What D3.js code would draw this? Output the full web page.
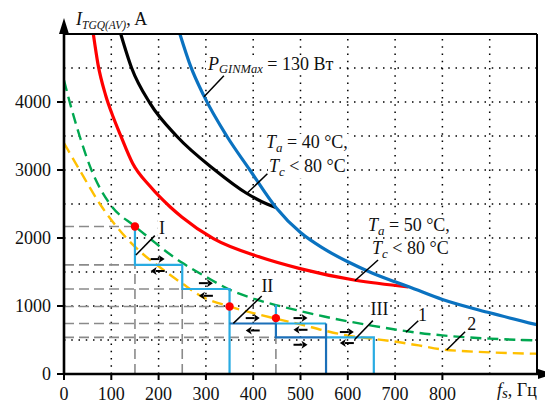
<!doctype html>
<html lang="ru">
<head>
<meta charset="utf-8">
<title>ITGQ(AV) vs fs</title>
<style>
  body { margin: 0; background: #fff; }
  svg text { font-family: "Liberation Serif", "Times New Roman", serif; fill: #111; }
</style>
</head>
<body>
<script src="https://cdn.jsdelivr.net/npm/d3@7/dist/d3.min.js"></script>
<script>
  // ---- values (f in Hz, I in A) ----
  var xTicks = [0, 100, 200, 300, 400, 500, 600, 700, 800];
  var yTicks = [0, 1000, 2000, 3000, 4000];
  var xGrid = [100, 200, 300, 400, 500, 600, 700, 800, 900];
  var yGrid = [500, 1000, 1500, 2000, 2500, 3000, 3500, 4000, 4500];

  // P_GINMax = 130 W
  var blueF = [245, 268, 295, 344, 393, 448, 500, 550, 600, 650, 700, 729, 800, 900, 1000];
  var blueI = [5000, 4520, 4101, 3500, 3000, 2450, 2080, 1840, 1650, 1490, 1355, 1282, 1095, 900, 724];
  // Ta = 40 C
  var blackF = [120, 143, 182, 238, 319, 386, 429, 448];
  var blackI = [5000, 4500, 3980, 3500, 3000, 2658, 2500, 2450];
  // Ta = 50 C
  var redF = [62, 72, 88, 104, 119, 145, 182, 224, 249, 316, 414, 499, 616, 728];
  var redI = [5000, 4550, 4100, 3780, 3520, 3100, 2760, 2460, 2310, 1990, 1720, 1550, 1378, 1282];
  // curve 1 (green dashed)
  var greenF = [0, 12, 33, 58, 97, 150, 182, 224, 250, 300, 351, 400, 450, 500, 550, 600, 650, 700, 750, 800, 850, 900, 1000];
  var greenI = [4321, 4000, 3500, 3000, 2500, 2170, 1990, 1760, 1635, 1430, 1238, 1110, 1010, 925, 845, 775, 712, 655, 605, 568, 540, 520, 493];
  // curve 2 (orange dashed)
  var orangeF = [0, 33, 76, 132, 182, 196, 250, 291, 350, 400, 450, 500, 550, 600, 650, 697, 750, 800, 850, 900, 1000];
  var orangeI = [3396, 3000, 2500, 2000, 1678, 1605, 1330, 1140, 993, 895, 810, 730, 640, 565, 520, 479, 420, 360, 335, 318, 298];

  // step trajectories
  var stepsLight = [
    [[150, 2170], [150, 1605], [250, 1605], [250, 1250], [350, 1250], [350, 0]],
    [[448, 1018], [448, 743], [554, 743]],
    [[554, 538], [655, 538], [655, 0]]
  ];
  var stepsDark = [
    [[350, 743], [448, 743]],
    [[448, 743], [448, 538], [554, 538]],
    [[554, 743], [554, 0]]
  ];
  var dotF = [150, 350, 448];
  var dotI = [2170, 993, 822];

  // gray dashed guides
  var guideH = [[150, 2170], [150, 1605], [250, 1250], [350, 993], [350, 743], [448, 538]];
  var guideV = [[150, 1605], [250, 1250], [448, 538]];

  var arrowsRight = [[198, 1690], [300, 1336], [399, 822], [500, 822], [500, 430], [598, 617]];
  var arrowsLeft = [[198, 1515], [300, 1150], [399, 640], [500, 650], [598, 455]];

  var W = 545, H = 403;
  var svg = d3.select("body").append("svg")
    .attr("width", W)
    .attr("height", H);

  var x = d3.scaleLinear().domain([0, 1000]).range([64, 537]);
  var y = d3.scaleLinear().domain([0, 5000]).range([374, 34]);

  svg.append("clipPath").attr("id", "plot")
    .append("rect").attr("x", 64).attr("y", 34).attr("width", 473).attr("height", 340);

  // dotted grid
  svg.append("g").selectAll("line").data(xGrid).enter().append("line")
    .attr("x1", function(d){ return x(d); }).attr("x2", function(d){ return x(d); })
    .attr("y1", y(0)).attr("y2", y(5000))
    .attr("stroke", "#000").attr("stroke-width", 1.5).attr("stroke-dasharray", "1.5,5.75");
  svg.append("g").selectAll("line").data(yGrid).enter().append("line")
    .attr("y1", function(d){ return y(d); }).attr("y2", function(d){ return y(d); })
    .attr("x1", x(0)).attr("x2", x(1000))
    .attr("stroke", "#000").attr("stroke-width", 1.5).attr("stroke-dasharray", "1.5,5.75");

  // gray guides
  var guides = svg.append("g").attr("stroke", "#8a8a8a").attr("stroke-width", 1.6).attr("stroke-dasharray", "10,5");
  guides.selectAll(".gh").data(guideH).enter().append("line")
    .attr("x1", x(0)).attr("x2", function(d){ return x(d[0]); })
    .attr("y1", function(d){ return y(d[1]); }).attr("y2", function(d){ return y(d[1]); });
  guides.selectAll(".gv").data(guideV).enter().append("line")
    .attr("x1", function(d){ return x(d[0]); }).attr("x2", function(d){ return x(d[0]); })
    .attr("y1", y(0)).attr("y2", function(d){ return y(d[1]); });

  // text helper (white box behind, so the dotted grid breaks around it)
  function label(px, py, parts, anchor, box) {
    var g = svg.append("g");
    var t = g.append("text").attr("x", px).attr("y", py).attr("font-size", 18)
      .attr("text-anchor", anchor || "start");
    var shift = 0;
    parts.forEach(function(p){
      var s = t.append("tspan").text(p.t);
      if (p.i) s.attr("font-style", "italic");
      var want = p.sub ? p.sub : 0;
      if (want !== shift) { s.attr("dy", want - shift); shift = want; }
      if (p.sub) s.attr("font-size", p.fs || 12.5);
    });
    if (box) {
      var b = t.node().getBBox();
      g.insert("rect", "text")
        .attr("x", b.x - 1).attr("y", b.y + 2)
        .attr("width", b.width + 2).attr("height", b.height - 3)
        .attr("fill", "#fff");
    }
    return g;
  }

  // annotation text goes under the curves
  label(x(207), y(2059), [{t: "I"}], "middle", true);
  label(x(430), y(1210), [{t: "II"}], "middle", true);
  label(x(667), y(868), [{t: "III"}], "middle", true);
  label(x(758), y(786), [{t: "1"}], "middle", true);
  label(x(862), y(640), [{t: "2"}], "middle", true);

  label(208, 69.5, [{t: "P", i: 1}, {t: "GINMax", i: 1, sub: 3}, {t: " = 130 Вт"}], "start", true);
  label(266, 148, [{t: "T", i: 1}, {t: "a", i: 1, sub: 4, fs: 13}, {t: " = 40 °C,"}], "start", true);
  label(269, 172, [{t: "T", i: 1}, {t: "c", i: 1, sub: 4, fs: 13}, {t: " < 80 °C"}], "start", true);
  label(368, 231, [{t: "T", i: 1}, {t: "a", i: 1, sub: 4, fs: 13}, {t: " = 50 °C,"}], "start", true);
  label(372, 254, [{t: "T", i: 1}, {t: "c", i: 1, sub: 4, fs: 13}, {t: " < 80 °C"}], "start", true);

  function curve(fs, is, color, width, dash) {
    var pts = fs.map(function(f, i){ return [f, is[i]]; });
    var line = d3.line()
      .x(function(d){ return x(d[0]); })
      .y(function(d){ return y(d[1]); })
      .curve(d3.curveMonotoneX);
    svg.append("path")
      .attr("d", line(pts))
      .attr("fill", "none")
      .attr("stroke", color)
      .attr("stroke-width", width)
      .attr("stroke-dasharray", dash || null)
      .attr("clip-path", "url(#plot)");
  }

  curve(orangeF, orangeI, "#ffc000", 2.4, "11,6");
  curve(greenF, greenI, "#00a850", 2.4, "11,6");
  curve(redF, redI, "#ff0000", 3.2);
  curve(blackF, blackI, "#000000", 3.2);
  curve(blueF, blueI, "#0a72c0", 3.2);

  // steps
  var stepLine = d3.line().x(function(d){ return x(d[0]); }).y(function(d){ return y(d[1]); });
  svg.append("g").selectAll("path").data(stepsLight).enter().append("path")
    .attr("d", stepLine).attr("fill", "none").attr("stroke", "#29abe2").attr("stroke-width", 2.2);
  svg.append("g").selectAll("path").data(stepsDark).enter().append("path")
    .attr("d", stepLine).attr("fill", "none").attr("stroke", "#1b6fb8").attr("stroke-width", 2.2);

  svg.append("g").selectAll("circle").data(dotF).enter().append("circle")
    .attr("cx", function(d){ return x(d); })
    .attr("cy", function(d, i){ return y(dotI[i]); })
    .attr("r", 4.2).attr("fill", "#ff0000");

  // small direction arrows
  function arrow(d, dir) {
    var cx = x(d[0]), cy = y(d[1]);
    var g = svg.append("g");
    g.append("line")
      .attr("x1", cx - 7 * dir).attr("x2", cx + 2 * dir)
      .attr("y1", cy).attr("y2", cy)
      .attr("stroke", "#000").attr("stroke-width", 2);
    g.append("path")
      .attr("d", "M" + (cx + 7 * dir) + "," + cy + "L" + (cx + dir) + "," + (cy - 4) +
                 "L" + (cx + 2.5 * dir) + "," + cy + "L" + (cx + dir) + "," + (cy + 4) + "Z")
      .attr("fill", "#000");
  }
  arrowsRight.forEach(function(d){ arrow(d, 1); });
  arrowsLeft.forEach(function(d){ arrow(d, -1); });

  // leader lines
  var leaders = [
    [[152, 1750], [192, 2035]],
    [[358, 745], [418, 1147]],
    [[615, 510], [653, 785]],
    [[723, 613], [749, 784]],
    [[809, 353], [848, 622]],
    [[296, 4078], [338, 4385]],
    [[387, 2657], [430, 2945]],
    [[615, 1372], [664, 1676]]
  ];
  svg.append("g").selectAll("line").data(leaders).enter().append("line")
    .attr("x1", function(d){ return x(d[0][0]); }).attr("y1", function(d){ return y(d[0][1]); })
    .attr("x2", function(d){ return x(d[1][0]); }).attr("y2", function(d){ return y(d[1][1]); })
    .attr("stroke", "#000").attr("stroke-width", 1.5);

  // axes
  var axes = svg.append("g");
  axes.append("line").attr("x1", x(0)).attr("x2", x(1000)).attr("y1", y(5000)).attr("y2", y(5000))
    .attr("stroke", "#000").attr("stroke-width", 2);
  axes.append("line").attr("x1", x(1000)).attr("x2", x(1000)).attr("y1", y(5000)).attr("y2", y(0))
    .attr("stroke", "#000").attr("stroke-width", 2);
  axes.append("line").attr("x1", x(0)).attr("x2", 540).attr("y1", y(0)).attr("y2", y(0))
    .attr("stroke", "#000").attr("stroke-width", 2.6);
  axes.append("line").attr("x1", x(0)).attr("x2", x(0)).attr("y1", y(0)).attr("y2", 30)
    .attr("stroke", "#000").attr("stroke-width", 2.6);
  axes.append("path").attr("d", "M64,18L69,34L59,34Z").attr("fill", "#000");
  axes.append("path").attr("d", "M553,374L538,369L538,379Z").attr("fill", "#000");

  axes.selectAll(".xt").data(xTicks).enter().append("line")
    .attr("x1", function(d){ return x(d); }).attr("x2", function(d){ return x(d); })
    .attr("y1", y(0)).attr("y2", y(0) + 6)
    .attr("stroke", "#000").attr("stroke-width", 2);
  axes.selectAll(".yt").data(yTicks).enter().append("line")
    .attr("y1", function(d){ return y(d); }).attr("y2", function(d){ return y(d); })
    .attr("x1", x(0) - 7).attr("x2", x(0))
    .attr("stroke", "#000").attr("stroke-width", 2);

  axes.selectAll(".xl").data(xTicks).enter().append("text")
    .attr("x", function(d){ return x(d); }).attr("y", 400)
    .attr("text-anchor", "middle").attr("font-size", 18)
    .text(function(d){ return d; });
  axes.selectAll(".yl").data(yTicks).enter().append("text")
    .attr("x", 51).attr("y", function(d){ return y(d) + 6; })
    .attr("text-anchor", "end").attr("font-size", 18)
    .text(function(d){ return d; });

  label(76, 25, [{t: "I", i: 1}, {t: "TGQ(AV)", i: 1, sub: 4, fs: 11.5}, {t: ", A"}]);
  label(497, 396, [{t: "f", i: 1}, {t: "s", i: 1, sub: 2, fs: 15}, {t: ", Гц"}]);
</script>
</body>
</html>
